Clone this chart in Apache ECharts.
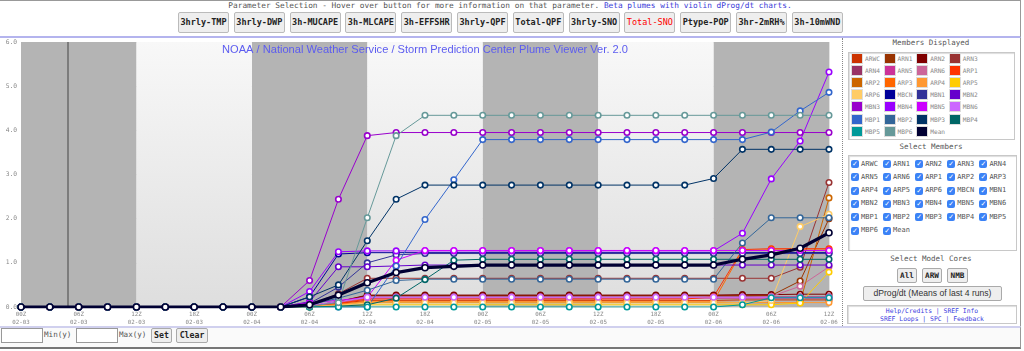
<!DOCTYPE html>
<html><head><meta charset="utf-8">
<script src="https://cdn.jsdelivr.net/npm/echarts@6/dist/echarts.min.js"></script>
<style>
body{margin:0;width:1024px;height:351px;overflow:hidden;background:#fff;font-family:"DejaVu Sans Mono",monospace;position:relative}
.a{position:absolute;box-sizing:border-box}
#hdr{left:0;top:0;width:1021px;height:38px;border-top:1px solid #999;border-right:1px solid #999;border-bottom:2px solid #b4b4ee}
#ptxt{left:0;top:1px;width:1020px;text-align:center;font-size:7.8px;color:#555;line-height:10px;white-space:nowrap}
#ptxt span{color:#3a3ad8}
.pbtn{top:12px;width:51px;height:21px;background:#eee;border:1px solid #bbb;border-radius:2px;font-size:8.5px;font-weight:bold;color:#222;text-align:center;line-height:19px;white-space:nowrap}
#chart{left:0;top:38px;width:850px;height:288px}
#rp{left:842px;top:38px;width:179px;height:288px;border-left:1px dotted #888;border-right:1px solid #999;background:#fff}
.ttl{left:842px;width:178px;text-align:center;font-size:7.5px;color:#555;line-height:10px}
.box{border:1px solid #c8c8c8;box-shadow:inset 1px 1px 1px #ddd;background:#fff}
.sw{width:12px;height:11px;border:1px solid #ddd}
.lg{font-size:6.2px;color:#888;line-height:11px;white-space:nowrap}
.cb{width:8px;height:8px;border-radius:2px;background:#3b82f6;color:#fff;font-size:7px;line-height:8px;text-align:center;font-family:"DejaVu Sans"}
.cl{font-size:7px;color:#555;line-height:9px;white-space:nowrap}
.sbtn{height:15px;background:#eee;border:1px solid #aaa;border-radius:2px;font-size:7.7px;font-weight:bold;color:#222;text-align:center;line-height:13px}
#bot{left:0;top:326px;width:1021px;height:23px;border-top:2px solid #d0d0ee;border-bottom:2px solid #777;border-right:1px solid #999;background:#fafafa}
.inp{top:328px;width:42px;height:15px;border:1px solid #999;background:#fff}
.bl{top:330px;font-size:7.6px;color:#555;line-height:10px}
.bb{top:328px;height:15px;background:#eee;border:1px solid #aaa;border-radius:2px;font-size:8.2px;font-weight:bold;color:#222;text-align:center;line-height:13px}
</style></head>
<body>
<div id="hdr" class="a"></div>
<div id="ptxt" class="a">Parameter Selection - Hover over button for more information on that parameter. <span>Beta plumes with violin dProg/dt charts.</span></div>
<div id="chart" class="a"></div>
<div id="rp" class="a"></div>
<div id="bot" class="a"></div>
<div class="a inp" style="left:1px"></div>
<div class="a bl" style="left:44px">Min(y)</div>
<div class="a inp" style="left:76px"></div>
<div class="a bl" style="left:119px">Max(y)</div>
<div class="a bb" style="left:151px;width:21px">Set</div>
<div class="a bb" style="left:176px;width:32px">Clear</div>
<script>
// ---- data ----
const paramButtons = ['3hrly-TMP','3hrly-DWP','3h-MUCAPE','3h-MLCAPE','3h-EFFSHR','3hrly-QPF','Total-QPF','3hrly-SNO','Total-SNO','Ptype-POP','3hr-2mRH%','3h-10mWND'];
const activeParam = 'Total-SNO';
const titleText = 'NOAA / National Weather Service / Storm Prediction Center Plume Viewer Ver. 2.0';
const hours = [0,3,6,9,12,15,18,21,24,27,30,33,36,39,42,45,48,51,54,57,60,63,66,69,72,75,78,81,84];
const xTickLabels = ['00Z\n02-03','06Z\n02-03','12Z\n02-03','18Z\n02-03','00Z\n02-04','06Z\n02-04','12Z\n02-04','18Z\n02-04','00Z\n02-05','06Z\n02-05','12Z\n02-05','18Z\n02-05','00Z\n02-06','06Z\n02-06','12Z\n02-06'];
const yTickLabels = ['0.0','1.0','2.0','3.0','4.0','5.0','6.0'];
const nightBands = [[0,12],[24,36],[48,60],[72,84]];
const dayBands = [[12,24],[36,48],[60,72]];
const nowHour = 4.9;
const members = ['ARWC','ARN1','ARN2','ARN3','ARN4','ARN5','ARN6','ARP1','ARP2','ARP3','ARP4','ARP5','ARP6','MBCN','MBN1','MBN2','MBN3','MBN4','MBN5','MBN6','MBP1','MBP2','MBP3','MBP4','MBP5','MBP6','Mean'];
const colors = ['#cc3300','#993300','#800000','#993333','#993366','#cc3399','#cc6699','#ff3300','#cc6600','#ff6600','#ff9933','#ffcc00','#ffcc66','#000099','#333399','#6600cc','#9900cc','#9900ff','#cc00ff','#cc66ff','#3366cc','#336699','#003366','#006666','#009999','#669999','#000033'];

const ARWC = [0,0,0,0,0,0,0,0,0,0, 0.02,0.08,0.15,0.15,0.15,0.15,0.15,0.15,0.15,0.15,0.15,0.15,0.15,0.15,0.15,0.16,0.16,0.16,0.16];
const ARN1 = [0,0,0,0,0,0,0,0,0,0, 0.02,0.12,0.26,0.26,0.26,0.26,0.26,0.26,0.26,0.26,0.26,0.26,0.26,0.26,0.26,0.26,0.26,0.59,2.0];
const ARN2 = [0,0,0,0,0,0,0,0,0,0, 0.02,0.12,0.27,0.27,0.27,0.27,0.27,0.27,0.27,0.27,0.27,0.27,0.27,0.27,0.27,0.28,0.28,0.29,0.29];
const ARN3 = [0,0,0,0,0,0,0,0,0,0, 0.05,0.3,0.65,0.65,0.65,0.65,0.65,0.65,0.65,0.65,0.65,0.65,0.65,0.65,0.65,0.65,0.65,0.9,2.82];
const ARN4 = [0,0,0,0,0,0,0,0,0,0, 0.02,0.1,0.23,0.23,0.23,0.23,0.23,0.23,0.23,0.23,0.23,0.23,0.23,0.23,0.23,0.23,0.23,0.23,0.23];
const ARN5 = [0,0,0,0,0,0,0,0,0,0, 0.02,0.1,0.2,0.2,0.2,0.2,0.2,0.2,0.2,0.2,0.2,0.2,0.2,0.2,0.2,0.2,0.2,0.2,0.2];
const ARN6 = [0,0,0,0,0,0,0,0,0,0, 0.02,0.1,0.21,0.21,0.21,0.21,0.21,0.21,0.21,0.21,0.21,0.21,0.21,0.21,0.21,0.21,0.24,0.47,0.91];
const ARP1 = [0,0,0,0,0,0,0,0,0,0, 0.02,0.08,0.18,0.18,0.18,0.18,0.18,0.18,0.18,0.18,0.18,0.18,0.18,0.18,0.23,1.3,1.32,1.32,1.32];
const ARP2 = [0,0,0,0,0,0,0,0,0,0, 0.0,0.05,0.1,0.1,0.1,0.1,0.1,0.1,0.1,0.1,0.1,0.1,0.1,0.1,0.1,0.1,0.1,0.1,2.47];
const ARP3 = [0,0,0,0,0,0,0,0,0,0, 0.01,0.06,0.13,0.13,0.13,0.13,0.13,0.13,0.13,0.13,0.13,0.13,0.13,0.13,0.13,1.28,1.29,1.29,1.29];
const ARP4 = [0,0,0,0,0,0,0,0,0,0, 0.01,0.05,0.12,0.12,0.12,0.12,0.12,0.12,0.12,0.12,0.12,0.12,0.12,0.12,0.12,0.1,0.1,0.1,0.1];
const ARP5 = [0,0,0,0,0,0,0,0,0,0, 0.0,0.02,0.05,0.05,0.05,0.05,0.05,0.05,0.05,0.05,0.05,0.05,0.05,0.05,0.05,0.05,0.05,0.09,0.79];
const ARP6 = [0,0,0,0,0,0,0,0,0,0, 0.0,0.04,0.09,0.09,0.09,0.09,0.09,0.09,0.09,0.09,0.09,0.09,0.09,0.09,0.09,0.09,0.15,1.82,2.1];
const MBCN = [0,0,0,0,0,0,0,0,0,0, 0.23,1.2,1.23,1.23,1.23,1.23,1.23,1.23,1.23,1.23,1.23,1.23,1.23,1.23,1.23,1.23,1.23,1.23,1.23];
const MBN1 = [0,0,0,0,0,0,0,0,0,0, 0.08,0.45,1.0,1.18,1.21,1.21,1.21,1.21,1.21,1.21,1.21,1.21,1.21,1.21,1.21,1.21,1.21,1.21,1.21];
const MBN2 = [0,0,0,0,0,0,0,0,0,0, 0.12,0.91,0.91,0.93,0.95,0.95,0.95,0.95,0.95,0.95,0.95,0.95,0.95,0.95,0.95,0.95,0.95,0.95,0.95];
const MBN3 = [0,0,0,0,0,0,0,0,0,0, 0.6,2.44,3.88,3.95,3.95,3.95,3.95,3.95,3.95,3.95,3.95,3.95,3.95,3.95,3.95,3.95,3.95,3.95,3.95];
const MBN4 = [0,0,0,0,0,0,0,0,0,0, 0.35,1.25,1.27,1.27,1.27,1.27,1.27,1.27,1.27,1.27,1.27,1.27,1.27,1.27,1.27,1.67,2.9,3.76,5.32];
const MBN5 = [0,0,0,0,0,0,0,0,0,0, 0.1,0.15,0.22,1.06,1.28,1.28,1.28,1.28,1.28,1.28,1.28,1.28,1.28,1.28,1.28,1.28,1.28,1.28,1.28];
const MBN6 = [0,0,0,0,0,0,0,0,0,0, 0.04,0.12,0.22,0.22,0.22,0.22,0.22,0.22,0.22,0.22,0.22,0.22,0.22,0.22,0.22,0.22,0.22,0.22,0.22];
const MBP1 = [0,0,0,0,0,0,0,0,0,0, 0,0,0,0.93,1.98,2.88,3.79,3.79,3.79,3.79,3.79,3.79,3.79,3.79,3.79,3.79,3.96,4.44,4.86];
const MBP2 = [0,0,0,0,0,0,0,0,0,0, 0.05,0.2,0.38,0.6,0.63,0.63,0.63,0.63,0.63,0.63,0.63,0.63,0.63,0.63,0.63,1.45,2.02,2.02,2.02];
const MBP3 = [0,0,0,0,0,0,0,0,0,0, 0.23,0.5,1.5,2.44,2.76,2.76,2.76,2.76,2.76,2.76,2.76,2.76,2.76,2.76,2.91,3.57,3.57,3.57,3.57];
const MBP4 = [0,0,0,0,0,0,0,0,0,0, 0,0.02,0.05,0.2,0.62,1.06,1.08,1.08,1.08,1.08,1.08,1.08,1.08,1.08,1.08,1.08,1.08,1.08,1.08];
const MBP5 = [0,0,0,0,0,0,0,0,0,0, 0,0,0,0,0,0,0,0,0,0,0,0,0,0,0,0.05,0.21,0.21,0.21];
const MBP6 = [0,0,0,0,0,0,0,0,0,0, 0.02,0.1,2.02,3.88,4.34,4.34,4.34,4.34,4.34,4.34,4.34,4.34,4.34,4.34,4.34,4.34,4.34,4.34,4.34];
const Mean = [0,0,0,0,0,0,0,0,0,0, 0.05,0.27,0.55,0.78,0.89,0.92,0.95,0.95,0.95,0.95,0.95,0.95,0.95,0.95,0.95,1.08,1.18,1.33,1.68];
const memberValues = [ARWC,ARN1,ARN2,ARN3,ARN4,ARN5,ARN6,ARP1,ARP2,ARP3,ARP4,ARP5,ARP6,MBCN,MBN1,MBN2,MBN3,MBN4,MBN5,MBN6,MBP1,MBP2,MBP3,MBP4,MBP5,MBP6,Mean];

// ---- page chrome ----
function el(cls, style, text){const d=document.createElement('div');d.className='a '+cls;d.setAttribute('style',style);if(text!==undefined)d.textContent=text;document.body.appendChild(d);return d;}
paramButtons.forEach((b,i)=>{el('pbtn','left:'+(178+i*55.8).toFixed(1)+'px;'+(b===activeParam?'color:#ff0000;font-weight:normal':''),b);});
el('ttl','top:38px','Members Displayed');
el('box','left:848px;top:52px;width:167px;height:88px');
members.forEach((m,i)=>{const c=i%4,r=Math.floor(i/4);const x=851+c*32.6,y=52.5+r*12.2;
  el('sw','left:'+x+'px;top:'+y+'px;background:'+colors[i]);
  el('lg','left:'+(x+14)+'px;top:'+y+'px',m);});
el('ttl','top:142px','Select Members');
el('box','left:848px;top:155px;width:169px;height:96px');
members.forEach((m,i)=>{const c=i%5,r=Math.floor(i/5);const x=851+c*32.1,y=160+r*13.3;
  el('cb','left:'+x+'px;top:'+y+'px','\u2713');
  el('cl','left:'+(x+10)+'px;top:'+(y-0.5)+'px',m);});
el('ttl','top:254px','Select Model Cores');
el('sbtn','left:897px;top:268px;width:20px','All');
el('sbtn','left:922px;top:268px;width:20px','ARW');
el('sbtn','left:947px;top:268px;width:21px','NMB');
el('sbtn','left:863px;top:286px;width:139px;font-family:\'Liberation Sans\',sans-serif;font-weight:normal;font-size:8.6px;color:#333','dProg/dt (Means of last 4 runs)');
const lk=el('box','left:847px;top:305px;width:170px;height:19px;text-align:center;font-size:6.4px;color:#4040e0;line-height:8px;padding-top:1px');
lk.innerHTML='Help/Credits | SREF Info<br>SREF Loops | SPC | Feedback';

// ---- chart ----
const chart = echarts.init(document.getElementById('chart'), null, {renderer:'canvas'});
const dayGrad = {type:'linear',x:0,y:0,x2:0,y2:1,colorStops:[{offset:0,color:'#f8f8f8'},{offset:1,color:'#dedede'}]};
const series = [{
  type:'line', data:[[0,0]], symbol:'none', lineStyle:{opacity:0}, z:-1, silent:true,
  markArea:{silent:true, data:
    nightBands.map(b=>[{xAxis:b[0],itemStyle:{color:'#b4b4b4'}},{xAxis:b[1]}]).concat(
    dayBands.map(b=>[{xAxis:b[0],itemStyle:{color:dayGrad}},{xAxis:b[1]}]))},
  markLine:{silent:true, symbol:'none', label:{show:false}, lineStyle:{color:'#6a6a6a',width:1.5,type:'solid'}, data:[{xAxis:nowHour}]}
}];
members.forEach((m,i)=>{
  const isMean = m==='Mean';
  series.push({
    name:m, type:'line', data:hours.map((h,j)=>[h,memberValues[i][j]]),
    symbol:'circle', symbolSize:isMean?6:5.5, showSymbol:true,
    lineStyle:{color:colors[i], width:isMean?3.2:1},
    itemStyle:{color:'#fff', borderColor:colors[i], borderWidth:1.6},
    z:isMean?6:3, emphasis:{disabled:true}
  });
});
chart.setOption({
  animation:false,
  title:{text:titleText, left:'center', top:1, textStyle:{color:'#5c5cf0', fontSize:11.1, fontWeight:'normal', fontFamily:'Liberation Sans'}},
  grid:{left:21, top:4, width:808, height:265},
  xAxis:{type:'value', min:0, max:84, interval:6,
    axisLine:{show:false}, axisTick:{show:false},
    splitLine:{show:true, lineStyle:{color:'rgba(0,0,0,0.11)', width:1}},
    axisLabel:{formatter:v=>xTickLabels[Math.round(v/6)], fontFamily:'DejaVu Sans Mono', fontSize:5.8, color:'#888', lineHeight:8, margin:3, showMinLabel:true, showMaxLabel:true}},
  yAxis:{type:'value', min:0, max:6, interval:1,
    axisLine:{show:false}, axisTick:{show:false},
    splitLine:{show:true, lineStyle:{color:'rgba(0,0,0,0.11)', width:1}},
    axisLabel:{formatter:v=>yTickLabels[Math.round(v)], fontFamily:'DejaVu Sans Mono', fontSize:6.3, color:'#888', margin:4}},
  series:series
});
</script>
</body></html>
